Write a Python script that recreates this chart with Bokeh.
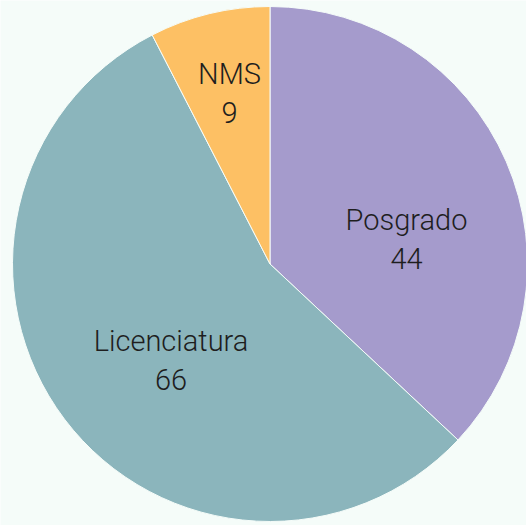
import math
from bokeh.plotting import figure
from bokeh.models import Range1d, ColumnDataSource
from bokeh.core.properties import value
from bokeh.embed import file_html
from bokeh.resources import INLINE

# ---- data ----
categories = ["Posgrado", "Licenciatura", "NMS"]
counts = [44, 66, 9]
colors = ["#a59bcc", "#8bb5bc", "#fdc064"]

# ---- layout (pixels) ----
W, H = 526, 525
BG = "#f5fcf9"
cx, cy = 269.5, H - 263.5
R = 257.5
# label block anchors relative to pie centre (dx right, dy down)
label_offsets = {"Posgrado": (136.5, -25.0), "Licenciatura": (-99.0, 96.0), "NMS": (-40.5, -170.5)}
half_gap = 19.25

total = float(sum(counts))
starts, ends = [], []
cum = 0.0
for c in counts:
    a0 = math.pi / 2 - 2 * math.pi * cum / total
    cum += c
    a1 = math.pi / 2 - 2 * math.pi * cum / total
    starts.append(a0)
    ends.append(a1)

src = ColumnDataSource(dict(cat=categories, val=counts, color=colors, start=starts, end=ends))

p = figure(width=W, height=H, output_backend="svg", toolbar_location=None,
           x_range=Range1d(0, W), y_range=Range1d(0, H), min_border=0)
p.axis.visible = False
p.grid.visible = False
p.outline_line_color = None
p.background_fill_color = BG
p.border_fill_color = BG

p.wedge(x=cx, y=cy, radius=R, start_angle="start", end_angle="end", direction="clock",
        fill_color="color", line_color=BG, line_width=1, source=src)

lx, ly_name, ly_val, names, vals = [], [], [], [], []
for cat, v in zip(categories, counts):
    dx, dy = label_offsets[cat]
    lx.append(cx + dx)
    ly_name.append(cy - dy + half_gap)
    ly_val.append(cy - dy - half_gap)
    names.append(cat)
    vals.append(str(v))

font = value("Roboto Light")
p.text(x=lx, y=ly_name, text=names, text_font=font, text_font_size="29px",
       text_align="center", text_baseline="alphabetic", text_color="#1e1e1e")
p.text(x=lx, y=ly_val, text=vals, text_font=font, text_font_size="29px",
       text_align="center", text_baseline="alphabetic", text_color="#1e1e1e")

html = file_html(p, INLINE)
html = html.replace("<body>", '<body style="background-color:%s; margin:0; overflow:hidden;">' % BG, 1)
open("out.html", "w").write(html)
